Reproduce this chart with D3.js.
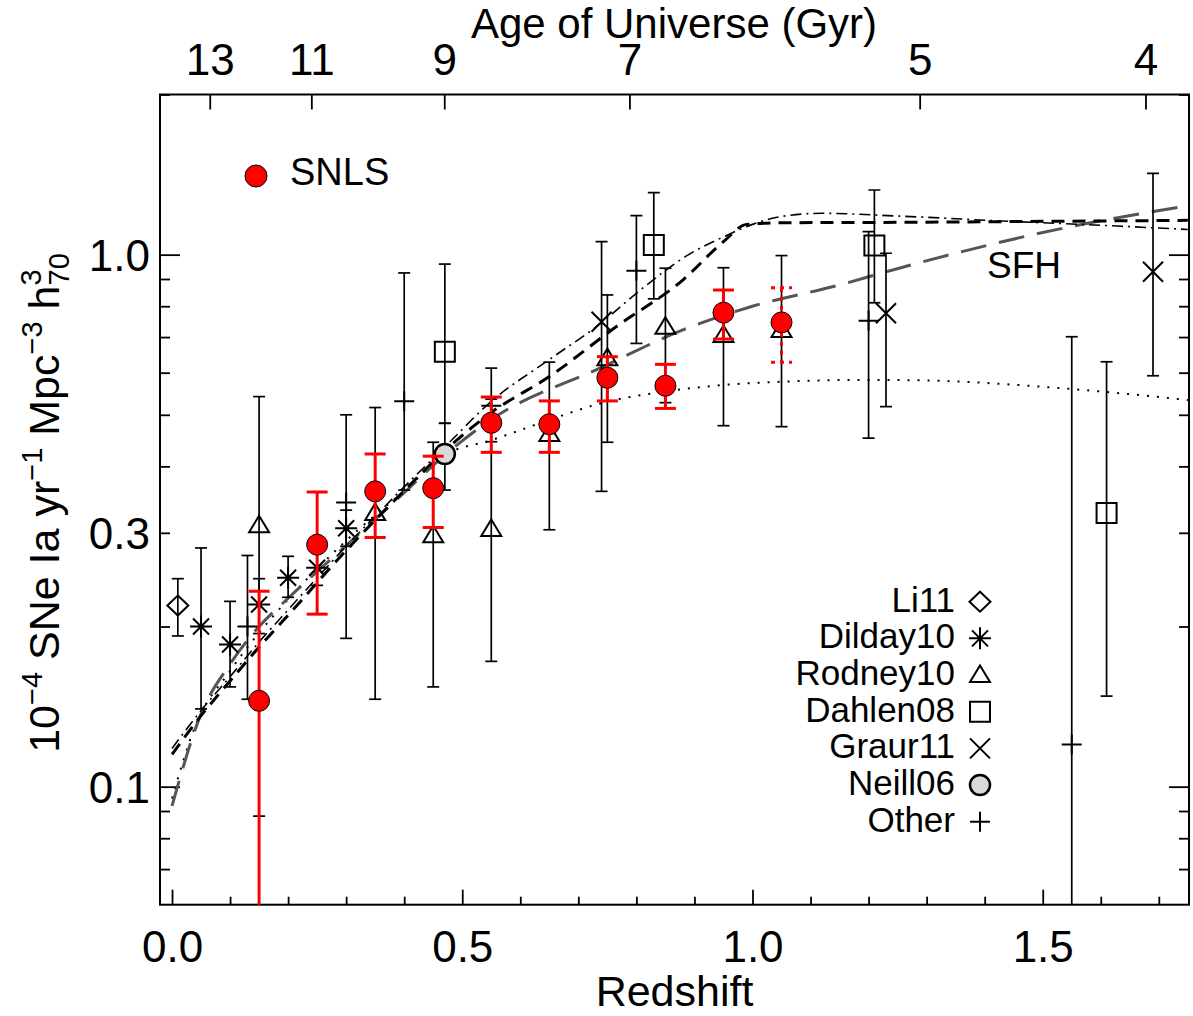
<!DOCTYPE html>
<html>
<head>
<meta charset="utf-8">
<script src="https://cdn.jsdelivr.net/npm/d3@7"></script>
<style>
  body { margin: 0; background: #fff; }
  text { font-family: "Liberation Sans", Arial, Helvetica, sans-serif; fill: #000; }
</style>
</head>
<body>
<svg id="chart" width="1193" height="1016"></svg>
<script>
// ---------------- DATA ----------------
// SNLS (this work)
const snlsZ    = [0.15, 0.25, 0.35, 0.45, 0.55, 0.65, 0.75, 0.85, 0.95, 1.05];
const snlsRate = [0.145, 0.285, 0.359, 0.364, 0.483, 0.480, 0.587, 0.567, 0.778, 0.746];
const snlsHi   = [0.233, 0.358, 0.422, 0.418, 0.540, 0.531, 0.643, 0.622, 0.858, 0.867];
const snlsLo   = [0.010, 0.211, 0.294, 0.307, 0.425, 0.425, 0.531, 0.514, 0.694, 0.628];

const li11Z = [0.01], li11Rate = [0.219], li11Hi = [0.246], li11Lo = [0.192];

const dildayZ    = [0.05, 0.10, 0.15, 0.20, 0.25, 0.30];
const dildayRate = [0.200, 0.185, 0.220, 0.247, 0.258, 0.306];
const dildayHi   = [0.281, 0.223, 0.246, 0.271, 0.280, 0.331];
const dildayLo   = [0.140, 0.154, 0.194, 0.227, 0.239, 0.283];

const rodneyZ    = [0.15, 0.35, 0.45, 0.55, 0.65, 0.75, 0.85, 0.95, 1.05];
const rodneyRate = [0.310, 0.327, 0.297, 0.305, 0.460, 0.639, 0.732, 0.706, 0.722];
const rodneyHi   = [0.541, 0.516, 0.444, 0.612, 0.628, 0.840, 0.943, 0.945, 0.996];
const rodneyLo   = [0.088, 0.146, 0.154, 0.172, 0.304, 0.444, 0.527, 0.477, 0.475];

const dahlenZ    = [0.47, 0.83, 1.21, 1.61];
const dahlenRate = [0.657, 1.043, 1.040, 0.327];
const dahlenHi   = [0.960, 1.308, 1.323, 0.629];
const dahlenLo   = [0.482, 0.826, 0.812, 0.148];

const graurZ    = [0.74, 1.23, 1.69];
const graurRate = [0.748, 0.776, 0.929];
const graurHi   = [1.058, 1.006, 1.422];
const graurLo   = [0.359, 0.518, 0.592];

const neillZ = [0.47], neillRate = [0.422], neillHi = [0.482], neillLo = [0.361];

const otherZ    = [0.13, 0.30, 0.40, 0.55, 0.80, 1.20, 1.55];
const otherRate = [0.200, 0.342, 0.530, 0.520, 0.933, 0.751, 0.120];
const otherHi   = [0.272, 0.500, 0.924, 0.535, 1.184, 1.105, 0.701];
const otherLo   = [0.146, 0.190, 0.361, 0.445, 0.681, 0.452, 0.010];

// model curves
const sfhZ = [0, 0.05, 0.10, 0.15, 0.20, 0.30, 0.40, 0.47, 0.55, 0.74, 0.88, 1.00, 1.15, 1.24, 1.55, 1.75];
const sfhV = [0.092, 0.137, 0.170, 0.200, 0.226, 0.284, 0.357, 0.420, 0.490, 0.614, 0.722, 0.800, 0.877, 0.935, 1.130, 1.235];

const dotZ = [0, 0.04, 0.10, 0.20, 0.30, 0.40, 0.47, 0.55, 0.65, 0.74, 0.85, 0.95, 1.05, 1.15, 1.25, 1.55, 1.75];
const dotV = [0.095, 0.130, 0.165, 0.225, 0.290, 0.360, 0.420, 0.448, 0.489, 0.526, 0.553, 0.569, 0.577, 0.581, 0.581, 0.559, 0.533];

const dashDotZ = [0, 0.05, 0.10, 0.15, 0.20, 0.30, 0.40, 0.47, 0.55, 0.65, 0.74, 0.80, 0.89, 0.95, 1.00, 1.05, 1.12, 1.25, 1.45, 1.55, 1.75];
const dashDotV = [0.118, 0.139, 0.161, 0.187, 0.215, 0.283, 0.366, 0.435, 0.530, 0.635, 0.745, 0.846, 1.000, 1.080, 1.140, 1.180, 1.196, 1.182, 1.154, 1.142, 1.115];

const dashZ = [0, 0.05, 0.10, 0.15, 0.20, 0.30, 0.40, 0.47, 0.55, 0.65, 0.765, 0.88, 0.95, 0.99, 1.05, 1.25, 1.50, 1.75];
const dashV = [0.115, 0.136, 0.158, 0.183, 0.210, 0.278, 0.360, 0.428, 0.505, 0.590, 0.732, 0.896, 1.058, 1.140, 1.148, 1.150, 1.155, 1.160];

// axis ticks
const zMajor = [0.0, 0.5, 1.0, 1.5];
const zMinor = [0.1, 0.2, 0.3, 0.4, 0.6, 0.7, 0.8, 0.9, 1.1, 1.2, 1.3, 1.4, 1.6, 1.7];
const ageLabels = ["13", "11", "9", "7", "5", "4"];
const ageTickZ  = [0.065, 0.240, 0.469, 0.788, 1.288, 1.677];
const rateLabelTicks = [0.1, 0.3, 1.0];
const rateMajor = [0.1, 1.0];
const rateMinor = [0.07, 0.08, 0.09, 0.2, 0.3, 0.4, 0.5, 0.6, 0.7, 0.8, 0.9, 2.0];

const legendNames = ["Li11", "Dilday10", "Rodney10", "Dahlen08", "Graur11", "Neill06", "Other"];
const legendSyms  = ["diamond", "asterisk", "triangle", "square", "x", "circle", "plus"];

// ---------------- LAYOUT ----------------
const plot = { left: 160, right: 1189, top: 94.5, bottom: 904.7 };
const x = d3.scaleLinear().domain([-0.0207, 1.752]).range([plot.left, plot.right]);
const y = d3.scaleLog().domain([0.06, 2.0]).range([plot.bottom, plot.top]);

const svg = d3.select("#chart");
svg.append("rect").attr("width", 1193).attr("height", 1016).attr("fill", "#fff");

svg.append("defs").append("clipPath").attr("id", "clip")
  .append("rect").attr("x", plot.left).attr("y", plot.top)
  .attr("width", plot.right - plot.left).attr("height", plot.bottom - plot.top);

// ---------------- AXES ----------------
function styleAxis(g) {
  g.select(".domain").remove();
  g.selectAll(".tick line").attr("stroke", "#000").attr("stroke-width", 1.8);
  g.selectAll(".tick text").style("font-size", "44px").attr("fill", "#000");
}
// bottom
svg.append("g").attr("transform", `translate(0,${plot.bottom})`)
  .call(d3.axisBottom(x).tickValues(zMajor).tickSize(-15).tickPadding(26).tickFormat(d3.format(".1f")))
  .call(styleAxis);
svg.append("g").attr("transform", `translate(0,${plot.bottom})`)
  .call(d3.axisBottom(x).tickValues(zMinor).tickSize(-8).tickFormat(""))
  .call(styleAxis);
// top (age)
svg.append("g").attr("transform", `translate(0,${plot.top})`)
  .call(d3.axisTop(x).tickValues(ageTickZ).tickSize(-15).tickPadding(19.5)
        .tickFormat((d, i) => ageLabels[i]))
  .call(styleAxis);
// left
svg.append("g").attr("transform", `translate(${plot.left},0)`)
  .call(d3.axisLeft(y).tickValues(rateMajor).tickSize(-20).tickFormat(""))
  .call(styleAxis);
svg.append("g").attr("transform", `translate(${plot.left},0)`)
  .call(d3.axisLeft(y).tickValues(rateMinor).tickSize(-10).tickFormat(""))
  .call(styleAxis);
svg.append("g").attr("transform", `translate(${plot.left},0)`)
  .call(d3.axisLeft(y).tickValues(rateLabelTicks).tickSize(0).tickPadding(10).tickFormat(d3.format(".1f")))
  .call(styleAxis)
  .call(g => g.selectAll(".tick text").attr("dy", "0.36em"));
// right
svg.append("g").attr("transform", `translate(${plot.right},0)`)
  .call(d3.axisRight(y).tickValues(rateMajor).tickSize(-20).tickFormat(""))
  .call(styleAxis);
svg.append("g").attr("transform", `translate(${plot.right},0)`)
  .call(d3.axisRight(y).tickValues(rateMinor).tickSize(-10).tickFormat(""))
  .call(styleAxis);

// frame
svg.append("rect").attr("x", plot.left).attr("y", plot.top)
  .attr("width", plot.right - plot.left).attr("height", plot.bottom - plot.top)
  .attr("fill", "none").attr("stroke", "#000").attr("stroke-width", 2);

// axis titles
svg.append("text").attr("x", 674).attr("y", 38).attr("text-anchor", "middle")
  .style("font-size", "42px").text("Age of Universe (Gyr)");
svg.append("text").attr("x", (plot.left + plot.right) / 2).attr("y", 1006).attr("text-anchor", "middle")
  .style("font-size", "43px").text("Redshift");

const yt = svg.append("text").attr("transform", "translate(59,503) rotate(-90)")
  .attr("text-anchor", "middle").style("font-size", "43px");
yt.append("tspan").text("10");
yt.append("tspan").attr("dy", -17).style("font-size", "29px").text("\u22124");
yt.append("tspan").attr("dy", 17).text(" SNe Ia yr");
yt.append("tspan").attr("dy", -17).style("font-size", "29px").text("\u22121");
yt.append("tspan").attr("dy", 17).text(" Mpc");
yt.append("tspan").attr("dy", -17).style("font-size", "29px").text("\u22123");
yt.append("tspan").attr("dy", 17).text(" h");
yt.append("tspan").attr("dy", -18).style("font-size", "29px").text("3");
yt.append("tspan").attr("dx", -16).attr("dy", 28).style("font-size", "29px").text("70");

// ---------------- CURVES ----------------
const plotG = svg.append("g").attr("clip-path", "url(#clip)");
const line = d3.line().x(d => x(d[0])).y(d => y(d[1])).curve(d3.curveMonotoneX);
const curves = [
  { z: dotZ, v: dotV, stroke: "#000", w: 2, dash: "2,8" },
  { z: sfhZ, v: sfhV, stroke: "#555", w: 3, dash: "26,13" },
  { z: dashDotZ, v: dashDotV, stroke: "#000", w: 1.6, dash: "11,5,2,5" },
  { z: dashZ, v: dashV, stroke: "#000", w: 3, dash: "13,8" }
];
curves.forEach(c => {
  plotG.append("path").datum(c.z.map((z, i) => [z, c.v[i]]))
    .attr("d", line).attr("fill", "none").attr("stroke", c.stroke)
    .attr("stroke-width", c.w).attr("stroke-dasharray", c.dash);
});

// SFH label
svg.append("text").attr("x", 987).attr("y", 278).style("font-size", "37px").text("SFH");

// ---------------- DATA POINTS ----------------
function symPath(sym) {
  switch (sym) {
    case "diamond":  return "M0,-10L10.5,0L0,10L-10.5,0Z";
    case "asterisk": return "M-11,0H11M0,-11V11M-8,-8L8,8M-8,8L8,-8";
    case "triangle": return "M0,-9.5L10,7L-10,7Z";
    case "square":   return "M-10,-10H10V10H-10Z";
    case "x":        return "M-10,-10L10,10M-10,10L10,-10";
    case "plus":     return "M-10,0H10M0,-10V10";
  }
  return "";
}

const series = [
  { sym: "diamond",  z: li11Z,   v: li11Rate,   hi: li11Hi,   lo: li11Lo },
  { sym: "asterisk", z: dildayZ, v: dildayRate, hi: dildayHi, lo: dildayLo },
  { sym: "triangle", z: rodneyZ, v: rodneyRate, hi: rodneyHi, lo: rodneyLo },
  { sym: "square",   z: dahlenZ, v: dahlenRate, hi: dahlenHi, lo: dahlenLo },
  { sym: "x",        z: graurZ,  v: graurRate,  hi: graurHi,  lo: graurLo },
  { sym: "plus",     z: otherZ,  v: otherRate,  hi: otherHi,  lo: otherLo },
  { sym: "circle",   z: neillZ,  v: neillRate,  hi: neillHi,  lo: neillLo }
];

function drawErr(g, z, hi, lo, color, w, cap, dash) {
  const xx = x(z), y1 = y(hi), y2 = y(lo);
  const attrs = s => s.attr("stroke", color).attr("stroke-width", w).attr("stroke-dasharray", dash || null);
  attrs(g.append("line").attr("x1", xx).attr("x2", xx).attr("y1", y1).attr("y2", y2));
  attrs(g.append("line").attr("x1", xx - cap / 2).attr("x2", xx + cap / 2).attr("y1", y1).attr("y2", y1));
  attrs(g.append("line").attr("x1", xx - cap / 2).attr("x2", xx + cap / 2).attr("y1", y2).attr("y2", y2));
}

const errG = plotG.append("g");
series.forEach(s => s.z.forEach((z, i) => drawErr(errG, z, s.hi[i], s.lo[i], "#000", 1.7, 12)));

const markG = plotG.append("g");
series.forEach(s => s.z.forEach((z, i) => {
  if (s.sym === "circle") {
    markG.append("circle").attr("cx", x(z)).attr("cy", y(s.v[i])).attr("r", 10)
      .attr("fill", "#d9d9d9").attr("stroke", "#000").attr("stroke-width", 2.5);
  } else {
    markG.append("path").attr("transform", `translate(${x(z)},${y(s.v[i])})`)
      .attr("d", symPath(s.sym)).attr("fill", "none").attr("stroke", "#000").attr("stroke-width", 2);
  }
}));

// SNLS
const snlsG = plotG.append("g");
snlsZ.forEach((z, i) => drawErr(snlsG, z, snlsHi[i], snlsLo[i], "#ff0000", 3, 21, i === snlsZ.length - 1 ? "4,5" : null));
snlsG.selectAll("circle.snls").data(snlsZ).join("circle").attr("class", "snls")
  .attr("cx", d => x(d)).attr("cy", (d, i) => y(snlsRate[i])).attr("r", 10.5)
  .attr("fill", "#ff0000").attr("stroke", "#000").attr("stroke-width", 1);

// ---------------- LEGENDS ----------------
svg.append("circle").attr("cx", 256).attr("cy", 176).attr("r", 11)
  .attr("fill", "#ff0000").attr("stroke", "#000").attr("stroke-width", 1);
svg.append("text").attr("x", 290).attr("y", 185).style("font-size", "38px").text("SNLS");

const legG = svg.append("g");
legendNames.forEach((n, i) => {
  const by = 611.7 + i * 36.67;
  legG.append("text").attr("x", 955).attr("y", by).attr("text-anchor", "end")
    .style("font-size", "35px").text(n);
  const cy = by - 10;
  if (legendSyms[i] === "circle") {
    legG.append("circle").attr("cx", 980).attr("cy", cy).attr("r", 10)
      .attr("fill", "#d9d9d9").attr("stroke", "#000").attr("stroke-width", 2.5);
  } else {
    legG.append("path").attr("transform", `translate(980,${cy})`)
      .attr("d", symPath(legendSyms[i])).attr("fill", "none").attr("stroke", "#000").attr("stroke-width", 2);
  }
});
</script>
</body>
</html>
